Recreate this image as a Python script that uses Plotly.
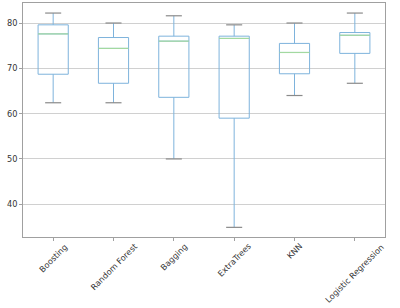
import plotly.graph_objects as go

categories = ["Boosting", "Random Forest", "Bagging", "ExtraTrees", "KNN", "Logistic Regression"]
lower_whisker = [62.4, 62.4, 50.0, 34.9, 64.0, 66.7]
q1_values = [68.7, 66.7, 63.6, 59.0, 68.8, 73.3]
median_values = [77.6, 74.4, 76.0, 76.6, 73.5, 77.3]
q3_values = [79.6, 76.8, 77.1, 77.1, 75.5, 77.9]
upper_whisker = [82.2, 80.0, 81.6, 79.6, 80.0, 82.2]
y_ticks = [40, 50, 60, 70, 80]

positions = list(range(1, len(categories) + 1))
BOX_W = 0.5
CAP_HALF = 0.133

fig = go.Figure()
fig.add_trace(go.Box(
    x=positions, q1=q1_values, median=median_values, q3=q3_values,
    lowerfence=lower_whisker, upperfence=upper_whisker,
    width=BOX_W, whiskerwidth=0.0, fillcolor="rgba(0,0,0,0)",
    line=dict(color="#7eb3dc", width=1), boxpoints=False, showlegend=False,
    hoverinfo="skip",
))

# medians
mx, my = [], []
for p, m in zip(positions, median_values):
    mx += [p - BOX_W / 2, p + BOX_W / 2, None]
    my += [m, m, None]
fig.add_trace(go.Scatter(x=mx, y=my, mode="lines", line=dict(color="#a3d9a0", width=1.2),
                         showlegend=False, hoverinfo="skip"))

# caps
cx, cy = [], []
for p, lo, hi in zip(positions, lower_whisker, upper_whisker):
    cx += [p - CAP_HALF, p + CAP_HALF, None, p - CAP_HALF, p + CAP_HALF, None]
    cy += [lo, lo, None, hi, hi, None]
fig.add_trace(go.Scatter(x=cx, y=cy, mode="lines", line=dict(color="#8a8a8a", width=1.2),
                         showlegend=False, hoverinfo="skip"))

for p, name in zip(positions, categories):
    fig.add_annotation(x=p, y=0, xref="x", yref="paper", text=name, showarrow=False,
                       textangle=-45, xanchor="center", yanchor="top", yshift=-3,
                       borderpad=0,
                       font=dict(family="DejaVu Sans", size=8.2, color="#333333"))

fig.update_layout(
    width=400, height=308,
    margin=dict(l=23, r=15, t=3, b=71, autoexpand=False),
    paper_bgcolor="white", plot_bgcolor="white",
    font=dict(family="DejaVu Sans", size=8.2, color="#333333"),
    hovermode=False,
)
fig.update_xaxes(range=[0.5, 6.5], tickvals=positions, ticktext=[""] * len(positions),
                 showgrid=False, zeroline=False, showline=True, linecolor="#a0a0a0",
                 linewidth=1, mirror=True, ticks="outside", ticklen=3, tickcolor="#a0a0a0",
                 automargin=False)
fig.update_yaxes(range=[32.77, 84.42], tickvals=y_ticks, showgrid=True, gridcolor="#d0d0d0",
                 gridwidth=1, zeroline=False, showline=True, linecolor="#a0a0a0",
                 linewidth=1, mirror=True, ticks="outside", ticklen=3, tickcolor="#a0a0a0",
                 automargin=False)

fig.write_html("out.html", config={"displayModeBar": False},
               post_script="document.body.style.margin='0';")
